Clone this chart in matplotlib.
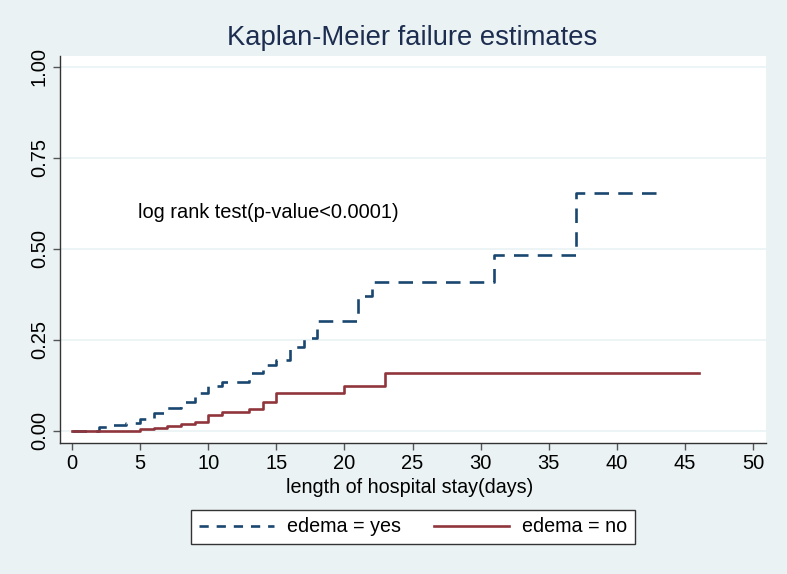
import matplotlib.pyplot as plt
from matplotlib.lines import Line2D

# failure estimates (step "post")
yes_days = [0, 2, 3, 4, 5, 6, 7, 8, 9, 10, 11, 13, 14, 15, 16, 17, 18, 21, 22, 31, 37, 43]
yes_fail = [0, 0.010, 0.016, 0.021, 0.032, 0.049, 0.062, 0.081, 0.104, 0.124, 0.135,
            0.158, 0.181, 0.195, 0.232, 0.255, 0.301, 0.371, 0.409, 0.484, 0.654, 0.654]
no_days = [0, 5, 6, 7, 8, 9, 10, 11, 13, 14, 15, 20, 23, 46]
no_fail = [0, 0.0055, 0.009, 0.014, 0.019, 0.025, 0.045, 0.053, 0.060, 0.080, 0.1035,
           0.124, 0.158, 0.158]

x_ticks = list(range(0, 51, 5))
y_ticks = [0, 0.25, 0.5, 0.75, 1.0]
y_labels = ['0.00', '0.25', '0.50', '0.75', '1.00']

BG = '#EAF2F3'
BLUE = '#1A476F'
RED = '#90353B'
DASH = (0, (5.5, 3.5))

plt.rcParams['font.family'] = ['Liberation Sans', 'DejaVu Sans']

fig = plt.figure(figsize=(7.87, 5.74), dpi=100, facecolor=BG)
ax = fig.add_axes([0.0762, 0.2282, 0.8971, 0.6742])
ax.set_facecolor('white')

ax.step(yes_days, yes_fail, where='post', color=BLUE, linewidth=1.9,
        linestyle=DASH, zorder=3)
ax.step(no_days, no_fail, where='post', color=RED, linewidth=1.9, zorder=4)

ax.set_xlim(-0.88, 50.95)
ax.set_ylim(-0.033, 1.030)
ax.set_xticks(x_ticks)
ax.set_yticks(y_ticks)
ax.set_yticklabels(y_labels, rotation=90, va='center')
ax.tick_params(axis='both', labelsize=14.5, length=5, width=1, color='#555555',
               direction='out', pad=3)
ax.grid(axis='y', color=BG, linewidth=1.2)
ax.set_axisbelow(True)
for side in ['top', 'right']:
    ax.spines[side].set_visible(False)
for side in ['left', 'bottom']:
    ax.spines[side].set_color('#333333')
    ax.spines[side].set_linewidth(1)

ax.text(4.85, 0.599, 'log rank test(p-value<0.0001)', fontsize=14.4,
        va='center', ha='left', color='black')

fig.text(0.524, 0.934, 'Kaplan-Meier failure estimates', fontsize=19.7,
         ha='center', va='center', color='#1C2D50')
fig.text(0.521, 0.150, 'length of hospital stay(days)', fontsize=14.2,
         ha='center', va='center', color='black')

handles = [Line2D([], [], color=BLUE, linewidth=1.9, linestyle=(0, (3.5, 3))),
           Line2D([], [], color=RED, linewidth=1.9)]
leg = fig.legend(handles, ['edema = yes', 'edema = no'], loc='center',
                 bbox_to_anchor=(0.525, 0.082), ncol=2, fontsize=14.2,
                 frameon=True, fancybox=False, handlelength=3.8,
                 columnspacing=1.7, handletextpad=0.66, borderpad=0.38,
                 borderaxespad=0, framealpha=1)
leg.get_frame().set_edgecolor('#333333')
leg.get_frame().set_facecolor('white')
leg.get_frame().set_linewidth(1)

fig.savefig('out.png', dpi=100, facecolor=BG)
